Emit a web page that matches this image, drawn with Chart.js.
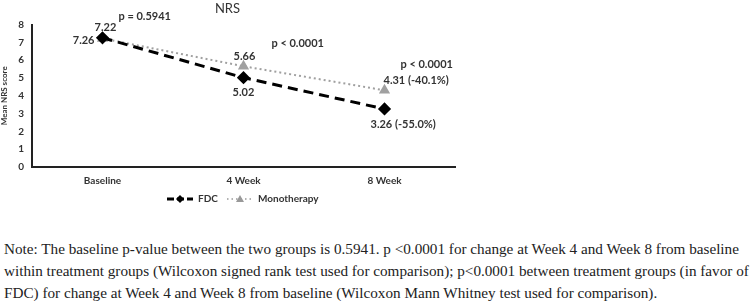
<!DOCTYPE html>
<html>
<head>
<meta charset="utf-8">
<script src="https://cdn.jsdelivr.net/npm/chart.js@4.4.0/dist/chart.umd.min.js"></script>
<style>
  html, body { margin: 0; padding: 0; background: #fff; }
  #wrap { position: relative; width: 755px; height: 301px; overflow: hidden; }
  #box { position: absolute; left: 0; top: 0; width: 470px; height: 212px; }
  #note {
    position: absolute; left: 4px; top: 238px;
    font-family: "Liberation Serif", "Times New Roman", serif;
    font-size: 15.2px; line-height: 22px; color: #222; white-space: nowrap;
  }
</style>
</head>
<body>
<div id="wrap">
  <div id="box"><canvas id="nrs-chart"></canvas></div>
  <div id="note">Note: The baseline p-value between the two groups is 0.5941. p &lt;0.0001 for change at Week 4 and Week 8 from baseline<br>within treatment groups (Wilcoxon signed rank test used for comparison); p&lt;0.0001 between treatment groups (in favor of<br>FDC) for change at Week 4 and Week 8 from baseline (Wilcoxon Mann Whitney test used for comparison).</div>
</div>
<script>
// data
var weeks = ['Baseline', '4 Week', '8 Week'];
var fdcScores = [7.26, 5.02, 3.26];
var monoScores = [7.22, 5.66, 4.31];
var fdcLabels = ['7.26', '5.02', '3.26 (-55.0%)'];
var monoLabels = ['7.22', '5.66', '4.31 (-40.1%)'];
var pValues = ['p = 0.5941', 'p < 0.0001', 'p < 0.0001'];

var labelFont = 'bold 11px Lato, "Open Sans", sans-serif';

// draws the value labels, p-values and legend like the excel figure
var annotatePlugin = {
    id: 'annotate',
    afterDatasetsDraw: function (chart) {
        var ctx = chart.ctx;
        var fdcPts = chart.getDatasetMeta(0).data;
        var monoPts = chart.getDatasetMeta(1).data;
        ctx.save();
        ctx.font = labelFont;
        ctx.fillStyle = '#333';
        ctx.textBaseline = 'middle';

        // baseline: mono above, fdc to the left
        ctx.textAlign = 'center';
        ctx.fillText(monoLabels[0], monoPts[0].x + 3, monoPts[0].y - 11);
        ctx.textAlign = 'right';
        ctx.fillText(fdcLabels[0], fdcPts[0].x - 8, fdcPts[0].y + 3);
        // 4 week
        ctx.textAlign = 'center';
        ctx.fillText(monoLabels[1], monoPts[1].x + 1, monoPts[1].y - 10);
        ctx.fillText(fdcLabels[1], fdcPts[1].x, fdcPts[1].y + 15);
        // 8 week
        ctx.textAlign = 'left';
        ctx.fillText(monoLabels[2], monoPts[2].x - 1, monoPts[2].y - 10);
        ctx.fillText(fdcLabels[2], fdcPts[2].x - 14, fdcPts[2].y + 15);

        // p values
        ctx.fillText(pValues[0], monoPts[0].x + 16, monoPts[0].y - 22);
        ctx.fillText(pValues[1], monoPts[1].x + 28, monoPts[1].y - 23);
        ctx.fillText(pValues[2], monoPts[2].x + 16, monoPts[2].y - 26);

        // legend
        var ly = 199;
        var lx = 167;
        ctx.lineWidth = 3;
        ctx.strokeStyle = '#000';
        ctx.setLineDash([7, 3]);
        ctx.beginPath(); ctx.moveTo(lx, ly); ctx.lineTo(lx + 26, ly); ctx.stroke();
        ctx.setLineDash([]);
        ctx.fillStyle = '#000';
        ctx.beginPath();
        ctx.moveTo(lx + 13, ly - 4); ctx.lineTo(lx + 17, ly); ctx.lineTo(lx + 13, ly + 4); ctx.lineTo(lx + 9, ly);
        ctx.closePath(); ctx.fill();
        ctx.fillStyle = '#333';
        ctx.font = 'bold 10px Lato, "Open Sans", sans-serif';
        ctx.textAlign = 'left';
        ctx.fillText('FDC', lx + 31, ly);

        var mx = lx + 60;
        ctx.lineWidth = 1.5;
        ctx.strokeStyle = '#999';
        ctx.setLineDash([1.5, 3]);
        ctx.beginPath(); ctx.moveTo(mx, ly); ctx.lineTo(mx + 26, ly); ctx.stroke();
        ctx.setLineDash([]);
        ctx.fillStyle = '#999';
        ctx.beginPath();
        ctx.moveTo(mx + 13, ly - 4); ctx.lineTo(mx + 17, ly + 3); ctx.lineTo(mx + 9, ly + 3);
        ctx.closePath(); ctx.fill();
        ctx.fillStyle = '#333';
        ctx.fillText('Monotherapy', mx + 31, ly);
        ctx.restore();
    }
};

var ctx = document.getElementById('nrs-chart').getContext('2d');
var chart = new Chart(ctx, {
    type: 'line',
    data: {
        labels: weeks,
        datasets: [
            {
                label: 'FDC',
                data: fdcScores,
                borderColor: '#000',
                backgroundColor: '#000',
                borderWidth: 3,
                borderDash: [10, 6],
                pointStyle: 'rectRot',
                pointRadius: 4.5,
                pointHoverRadius: 4.5,
                tension: 0
            },
            {
                label: 'Monotherapy',
                data: monoScores,
                borderColor: '#a0a0a0',
                backgroundColor: '#a0a0a0',
                borderWidth: 2,
                borderDash: [2, 3],
                pointStyle: 'triangle',
                pointRadius: 4.5,
                pointHoverRadius: 4.5,
                tension: 0
            }
        ]
    },
    options: {
        responsive: true,
        maintainAspectRatio: false,
        animation: false,
        layout: { padding: { left: 0, right: 15, top: 0, bottom: 0 } },
        plugins: {
            legend: { display: false },
            tooltip: { enabled: false },
            title: {
                display: true,
                text: 'NRS',
                color: '#333',
                font: { family: 'Lato, "Open Sans", sans-serif', size: 13, weight: 'normal' },
                padding: { top: 1, bottom: 8 }
            }
        },
        scales: {
            x: {
                offset: true,
                grid: { display: false, drawTicks: false },
                border: { color: '#222', width: 2 },
                ticks: {
                    color: '#333',
                    padding: 8,
                    font: { family: 'Lato, "Open Sans", sans-serif', size: 10, weight: 'bold' }
                },
                afterFit: function (scale) { scale.height = 45; }
            },
            y: {
                min: 0,
                max: 8,
                ticks: {
                    stepSize: 1,
                    color: '#333',
                    padding: 8,
                    font: { family: 'Lato, "Open Sans", sans-serif', size: 10, weight: 'bold' }
                },
                grid: { display: false, drawTicks: false },
                border: { color: '#222', width: 2 },
                title: {
                    display: true,
                    text: 'Mean NRS score',
                    color: '#333',
                    padding: 0,
                    font: { family: 'Lato, "Open Sans", sans-serif', size: 8, weight: 'bold' }
                },
                afterFit: function (scale) { scale.width = 32; }
            }
        }
    },
    plugins: [annotatePlugin]
});
</script>
</body>
</html>
